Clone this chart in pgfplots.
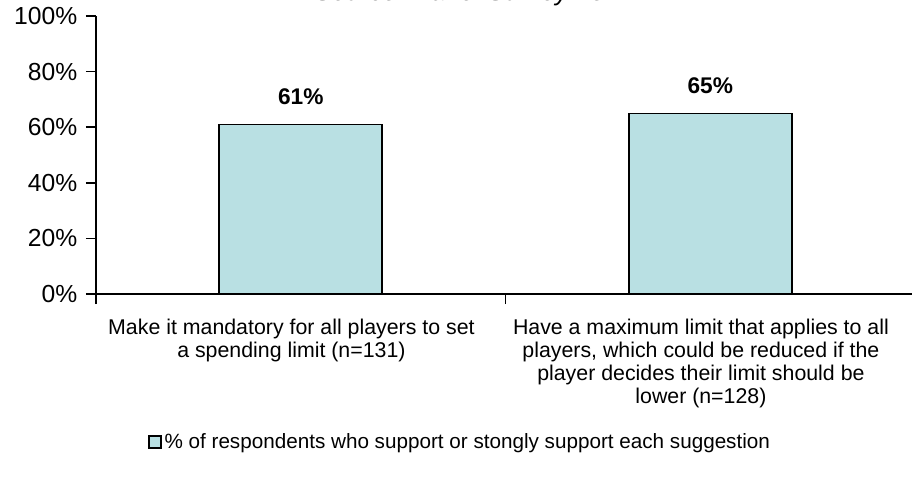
\documentclass[border=0pt]{standalone}
\usepackage{fontspec}
\setmainfont{Liberation Sans}
\usepackage{pgfplots}
\pgfplotsset{compat=1.18}
\definecolor{barcol}{RGB}{185,224,227}
\begin{document}
\begin{tikzpicture}
\begin{axis}[
  at={(0pt,0pt)}, anchor=south west,
  width=614.25pt, height=208.5pt, scale only axis,
  xmin=-0.5, xmax=1.5, ymin=0, ymax=100,
  axis x line=bottom, axis y line=left,
  axis line style={-, line width=1.1pt, black},
  ybar, bar width=122.25pt,
  xtick={-0.5,0.5,1.5}, xticklabels={},
  x tick style={line width=1.1pt, black},
  extra x ticks={0,1},
  extra x tick labels={{Make it mandatory for all players to set\\a spending limit (n=131)},{Have a maximum limit that applies to all\\players, which could be reduced if the\\player decides their limit should be\\lower (n=128)}},
  extra x tick style={tick style={draw=none},
    xticklabel style={align=center, font=\fontsize{16}{17.25}\selectfont, xshift=-7pt, yshift=-8pt}},
  ytick={0,20,40,60,80,100},
  yticklabels={0\%,20\%,40\%,60\%,80\%,100\%},
  yticklabel style={font=\fontsize{18.5}{20}\selectfont, xshift=-3pt},
  /pgf/number format/assume math mode=true,
  y tick style={line width=1.1pt, black},
  tick align=outside, major tick length=7.5pt,
  nodes near coords={\textbf{\pgfmathprintnumber{\pgfplotspointmeta}\%}},
  nodes near coords style={font=\fontsize{17}{19}\selectfont, anchor=center, inner sep=0pt, yshift=21pt},
  title={\textit{Source: Panel Survey \#3}},
  title style={at={(0.444,1)}, anchor=base, yshift=6pt, font=\fontsize{19.5}{22}\selectfont},
  legend style={at={(0.0635,-0.532)}, anchor=west, draw=none, fill=none, inner sep=0pt,
    font=\fontsize{15.5}{17.25}\selectfont, legend cell align=left},
  legend image code/.code={\draw[fill=barcol, line width=1.2pt] (0pt,-4.5pt) rectangle (9pt,4.5pt);},
  clip=false,
]
\addplot[fill=barcol, draw=black, line width=1.2pt] coordinates {(0,61) (1,65)};
\addlegendentry{\% of respondents who support or stongly support each suggestion}
\end{axis}
\pgfresetboundingbox
\useasboundingbox (-72pt,-144.75pt) rectangle (612pt,220.5pt);
\end{tikzpicture}
\end{document}
